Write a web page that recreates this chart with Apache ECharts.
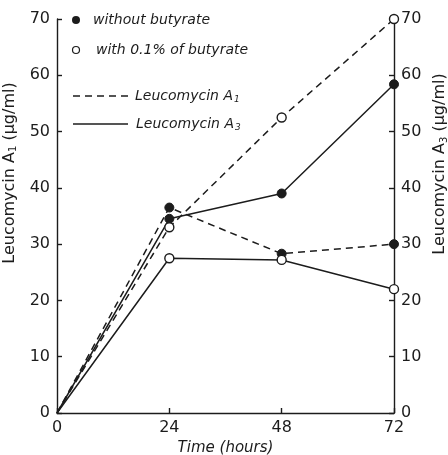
<!DOCTYPE html>
<html>
<head>
<meta charset="utf-8">
<script src="https://cdn.jsdelivr.net/npm/echarts@6/dist/echarts.min.js"></script>
<style>
html,body{margin:0;padding:0;background:#fff;}
#chart{width:448px;height:455px;}
</style>
</head>
<body>
<div id="chart"></div>
<script>
// Data
var hours = [0, 24, 48, 72];
var xTicks = [0, 24, 48, 72];
var yTicks = [0, 10, 20, 30, 40, 50, 60, 70];
// Leucomycin A1 (left axis)
var a1Without = [0, 36.5, 28.3, 30];
var a1With = [0, 33, 52.5, 70];
// Leucomycin A3 (right axis)
var a3Without = [0, 34.5, 39, 58.4];
var a3With = [0, 27.5, 27.2, 22];

var INK = '#1c1c1c';
var FONT = 'DejaVu Sans';

function pairs(vals) {
  return hours.map(function (h, i) { return [h, vals[i]]; });
}
function symSize(v) { return v[0] === 0 ? 0 : 9; }

function makeSeries(name, vals, axis, dashed, filled) {
  return {
    name: name,
    type: 'line',
    yAxisIndex: axis,
    data: pairs(vals),
    symbol: 'circle',
    symbolSize: symSize,
    showAllSymbol: true,
    lineStyle: { color: INK, width: 1.5, type: dashed ? [7, 5] : 'solid' },
    itemStyle: filled ? { color: INK, borderColor: INK, borderWidth: 1 }
                      : { color: '#fff', borderColor: INK, borderWidth: 1.4 },
    z: filled ? 3 : 4
  };
}

function titleRich() {
  return {
    n: { fontFamily: FONT, fontSize: 16, color: INK },
    s: { fontFamily: FONT, fontSize: 10, color: INK, padding: [8, 0, 0, 0] }
  };
}

var yAxisBase = function (pos, title, gap, shift) {
  return {
    type: 'value',
    position: pos,
    min: 0, max: 70, interval: 10,
    axisLine: { show: true, lineStyle: { color: INK, width: 1.4 } },
    axisTick: { show: true, inside: true, length: 5, lineStyle: { color: INK, width: 1.4 } },
    splitLine: { show: false },
    axisLabel: { fontFamily: FONT, fontSize: 16, color: INK, margin: 7 },
    name: title,
    nameLocation: 'middle',
    nameRotate: 90,
    nameGap: gap,
    nameTextStyle: { rich: titleRich(), padding: [0, 0, 0, shift] }
  };
};

var legendY = [20, 50, 96, 124];
var legendRich = {
  n: { fontFamily: FONT, fontSize: 14, fontStyle: 'italic', fill: INK },
  s: { fontFamily: FONT, fontSize: 9, fontStyle: 'italic', fill: INK, padding: [7, 0, 0, 1] }
};

var option = {
  animation: false,
  backgroundColor: '#fff',
  grid: { left: 57, right: 54, top: 19, bottom: 42, containLabel: false, outerBoundsMode: 'none' },
  xAxis: {
    type: 'value',
    min: 0, max: 72, interval: 24,
    axisLine: { show: true, lineStyle: { color: INK, width: 1.4 } },
    axisTick: { show: true, inside: true, length: 5, lineStyle: { color: INK, width: 1.4 } },
    splitLine: { show: false },
    axisLabel: { fontFamily: FONT, fontSize: 16, color: INK, margin: 7 },
    name: 'Time (hours)',
    nameLocation: 'middle',
    nameGap: 20,
    nameTextStyle: { fontFamily: FONT, fontSize: 15, fontStyle: 'italic', color: INK }
  },
  yAxis: [
    yAxisBase('left', '{n|Leucomycin A}{s|1}{n| (μg/ml)}', 34, 86),
    yAxisBase('right', '{n|Leucomycin A}{s|3}{n| (μg/ml)}', 35, 104)
  ],
  series: [
    makeSeries('A1 without butyrate', a1Without, 0, true, true),
    makeSeries('A1 with butyrate', a1With, 0, true, false),
    makeSeries('A3 without butyrate', a3Without, 1, false, true),
    makeSeries('A3 with butyrate', a3With, 1, false, false)
  ],
  graphic: [
    { type: 'circle', shape: { cx: 76, cy: legendY[0], r: 4 }, style: { fill: INK } },
    { type: 'text', x: 93, y: legendY[0], style: { text: 'without butyrate', fill: INK, font: 'italic 14px "DejaVu Sans"', verticalAlign: 'middle' } },
    { type: 'circle', shape: { cx: 76, cy: legendY[1], r: 3.5 }, style: { fill: '#fff', stroke: INK, lineWidth: 1.2 } },
    { type: 'text', x: 96, y: legendY[1], style: { text: 'with 0.1% of butyrate', fill: INK, font: 'italic 14px "DejaVu Sans"', verticalAlign: 'middle' } },
    { type: 'line', shape: { x1: 73, y1: legendY[2], x2: 128, y2: legendY[2] }, style: { stroke: INK, lineWidth: 1.4, lineDash: [7, 5] } },
    { type: 'text', x: 135, y: legendY[2], style: { text: '{n|Leucomycin A}{s|1}', verticalAlign: 'middle', rich: legendRich } },
    { type: 'line', shape: { x1: 73, y1: legendY[3], x2: 128, y2: legendY[3] }, style: { stroke: INK, lineWidth: 1.4 } },
    { type: 'text', x: 136, y: legendY[3], style: { text: '{n|Leucomycin A}{s|3}', verticalAlign: 'middle', rich: legendRich } }
  ]
};

var chart = echarts.init(document.getElementById('chart'), null, { renderer: 'canvas' });
chart.setOption(option);
</script>
</body>
</html>
